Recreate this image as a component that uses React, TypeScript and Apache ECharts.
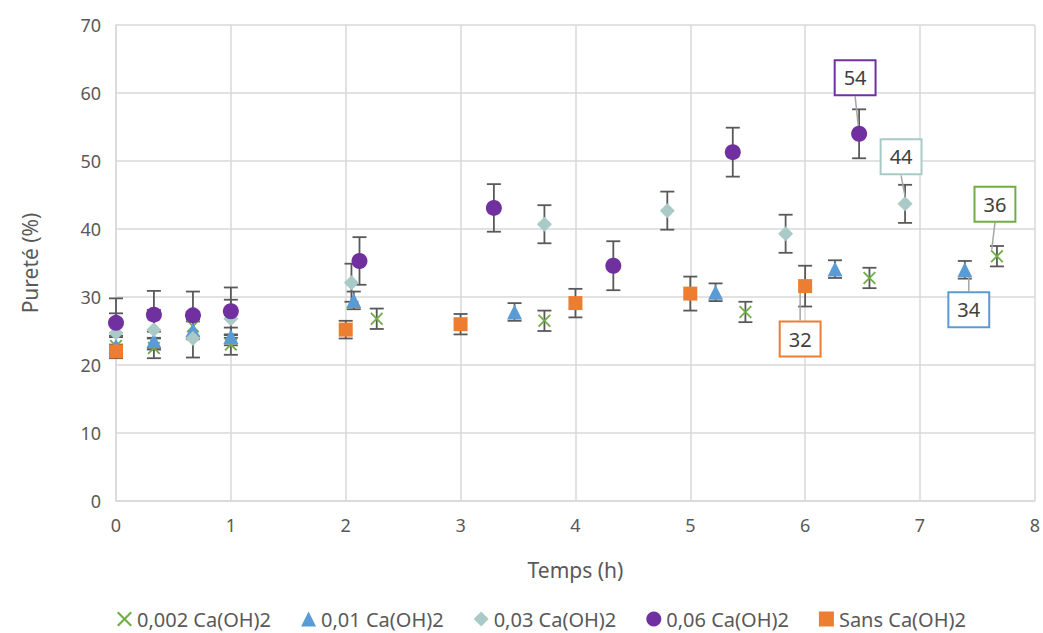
import React, { useEffect, useRef } from "react";
import * as echarts from "echarts";

const seriesNames = ["0,002 Ca(OH)2", "0,01 Ca(OH)2", "0,03 Ca(OH)2", "0,06 Ca(OH)2", "Sans Ca(OH)2"];
const seriesColors = ["#70AD47", "#5B9BD5", "#A9CAC6", "#7030A0", "#ED7D31"];

const x002 = [0, 0.33, 0.67, 1, 2.27, 3.73, 5.48, 6.56, 7.67];
const y002 = [22.8, 22.5, 25.7, 23.0, 26.8, 26.5, 27.8, 32.8, 36.0];
const e002 = [1.5, 1.5, 1.5, 1.5, 1.5, 1.5, 1.5, 1.5, 1.5];

const x001 = [0, 0.33, 0.67, 1, 2.07, 3.47, 5.22, 6.26, 7.39];
const y001 = [22.8, 23.6, 25.1, 24.2, 29.5, 27.8, 30.7, 34.1, 34.0];
const e001 = [1.3, 1.3, 1.3, 1.3, 1.3, 1.3, 1.3, 1.3, 1.3];

const x003 = [0, 0.33, 0.67, 1, 2.05, 3.73, 4.8, 5.83, 6.87];
const y003 = [24.7, 25.2, 23.9, 26.8, 32.1, 40.7, 42.7, 39.3, 43.7];
const e003 = [2.9, 2.9, 2.8, 2.8, 2.8, 2.8, 2.8, 2.8, 2.8];

const x006 = [0, 0.33, 0.67, 1, 2.12, 3.29, 4.33, 5.37, 6.47];
const y006 = [26.2, 27.4, 27.3, 27.9, 35.3, 43.1, 34.6, 51.3, 54.0];
const e006 = [3.6, 3.5, 3.5, 3.5, 3.5, 3.5, 3.6, 3.6, 3.6];

const xSans = [0, 2, 3, 4, 5, 6];
const ySans = [22.0, 25.2, 26.0, 29.1, 30.5, 31.6];
const eSans = [1.0, 1.3, 1.5, 2.1, 2.5, 3.0];

const calloutTexts = ["36", "34", "44", "54", "32"];
const calloutOffsets = [
  [-2, -52],
  [4, 40],
  [-4, -47],
  [-4, -56],
  [-5, 53],
];

const xs = [x002, x001, x003, x006, xSans];
const ys = [y002, y001, y003, y006, ySans];
const es = [e002, e001, e003, e006, eSans];

const crossPath =
  "path://M0,1L1,0L5,4L9,0L10,1L6,5L10,9L9,10L5,6L1,10L0,9L4,5Z";
const symbols = [crossPath, "triangle", "diamond", "circle", "rect"];
const symbolSizes = [13, 15, 15, 16, 14];

const FONT = "Noto Sans";

export default function App() {
  const ref = useRef<HTMLDivElement>(null);

  useEffect(() => {
    if (!ref.current) return;
    const chart = echarts.init(ref.current, undefined, { renderer: "svg" });

    const scatterSeries = seriesNames.map((name, si) => {
      const n = xs[si].length;
      const data = xs[si].map((x, i) => {
        if (i === n - 1) {
          return {
            value: [x, ys[si][i]],
            label: {
              show: true,
              position: "inside",
              formatter: calloutTexts[si],
              fontFamily: FONT,
              fontSize: 20,
              color: "#404040",
              backgroundColor: "#ffffff",
              borderColor: seriesColors[si],
              borderWidth: 2,
              padding: [7, 8, 6, 8],
            },
          };
        }
        return [x, ys[si][i]];
      });
      return {
        name,
        type: "scatter",
        symbol: symbols[si],
        symbolSize: symbolSizes[si],
        itemStyle: { color: seriesColors[si], opacity: 1 },
        data,
        z: 3 + si,
        labelLayout: { dx: calloutOffsets[si][0], dy: calloutOffsets[si][1] },
        labelLine: { show: true, lineStyle: { color: "#A6A6A6", width: 1.5 } },
      };
    });

    const errData: number[][] = [];
    xs.forEach((arr, si) => {
      arr.forEach((x, i) => errData.push([x, ys[si][i], es[si][i]]));
    });

    const errorSeries = {
      name: "errors",
      type: "custom",
      z: 2,
      encode: { x: 0, y: 1 },
      data: errData,
      renderItem: (params: any, api: any) => {
        const x = api.value(0);
        const y = api.value(1);
        const e = api.value(2);
        const top = api.coord([x, y + e]);
        const bot = api.coord([x, y - e]);
        const w = 7;
        const style = { stroke: "#595959", lineWidth: 1.8 };
        return {
          type: "group",
          children: [
            { type: "line", shape: { x1: top[0], y1: top[1], x2: bot[0], y2: bot[1] }, style },
            { type: "line", shape: { x1: top[0] - w, y1: top[1], x2: top[0] + w, y2: top[1] }, style },
            { type: "line", shape: { x1: bot[0] - w, y1: bot[1], x2: bot[0] + w, y2: bot[1] }, style },
          ],
        };
      },
    };

    const gridLine = { lineStyle: { color: "#D9D9D9", width: 1.5 } };

    chart.setOption({
      animation: false,
      backgroundColor: "#ffffff",
      textStyle: { fontFamily: FONT },
      grid: { left: 116, right: 7, top: 25, bottom: 132 },
      legend: {
        data: seriesNames.map((name, si) => ({ name, icon: symbols[si] })),
        top: 604,
        left: 112,
        itemWidth: 15,
        itemHeight: 15,
        itemGap: 30,
        textStyle: { color: "#595959", fontSize: 20, fontFamily: FONT },
      },
      xAxis: {
        type: "value",
        min: 0,
        max: 8,
        interval: 1,
        name: "Temps (h)",
        nameLocation: "middle",
        nameGap: 58,
        nameTextStyle: { color: "#595959", fontSize: 21, fontFamily: FONT },
        axisLine: { show: true, lineStyle: { color: "#D9D9D9", width: 1.5 } },
        axisTick: { show: false },
        axisLabel: { color: "#595959", fontSize: 18, margin: 15, fontFamily: FONT },
        splitLine: { show: true, ...gridLine },
      },
      yAxis: {
        type: "value",
        min: 0,
        max: 70,
        interval: 10,
        name: "Pureté (%)",
        nameLocation: "middle",
        nameGap: 76,
        nameRotate: 90,
        nameTextStyle: { color: "#595959", fontSize: 21, fontFamily: FONT },
        axisLine: { show: true, lineStyle: { color: "#D9D9D9", width: 1.5 } },
        axisTick: { show: false },
        axisLabel: { color: "#595959", fontSize: 18, margin: 15, fontFamily: FONT },
        splitLine: { show: true, ...gridLine },
      },
      series: [errorSeries, ...scatterSeries],
    });

    return () => chart.dispose();
  }, []);

  return (
    <div
      ref={ref}
      style={{ position: "fixed", left: 0, top: 0, width: 1043, height: 633 }}
    />
  );
}
